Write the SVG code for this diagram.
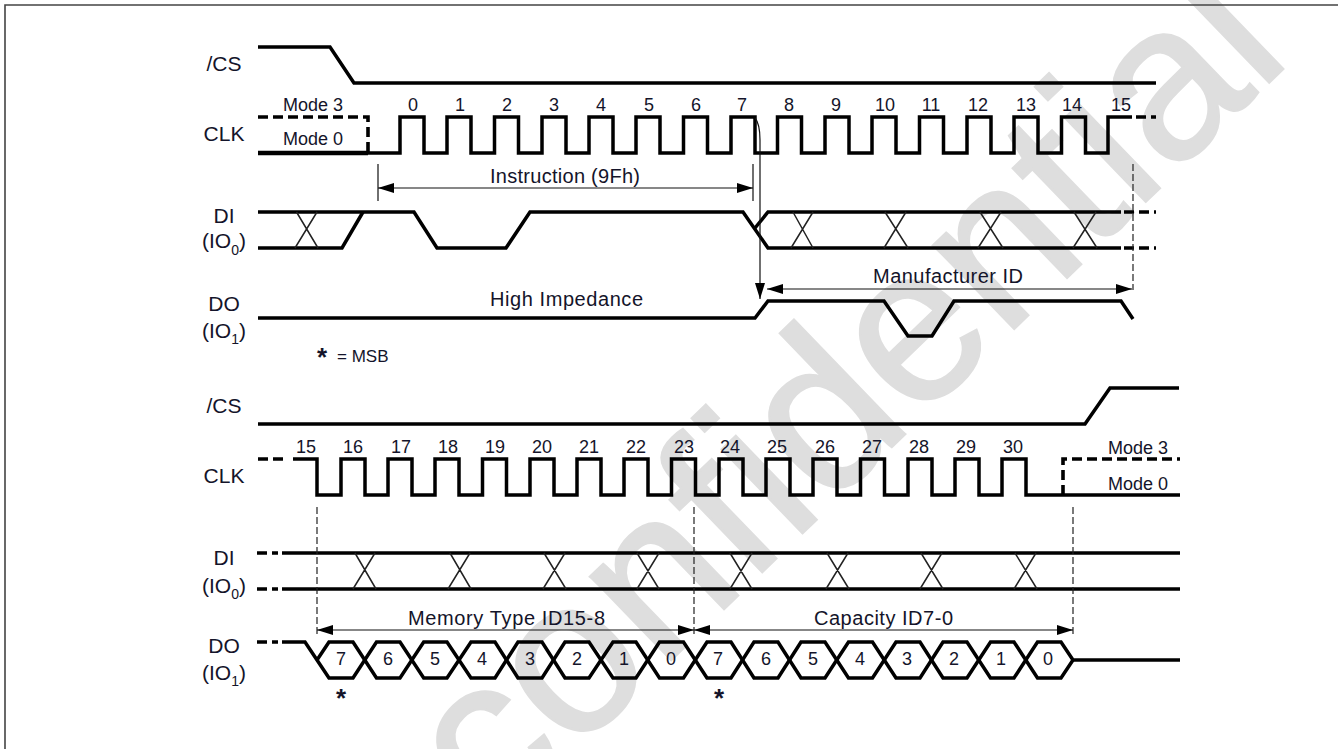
<svg xmlns="http://www.w3.org/2000/svg" width="1338" height="749" viewBox="0 0 1338 749">
<style>
text{font-family:"Liberation Sans",Arial,sans-serif;fill:#14142a}
.l{font-size:21px;text-anchor:middle}
.n{font-size:18px;text-anchor:middle}
.t{font-size:20px}
.w{fill:none;stroke:#000;stroke-width:3.5}
.x{fill:none;stroke:#222;stroke-width:1.5}
.d{fill:none;stroke:#000;stroke-width:3.6;stroke-dasharray:10 5}
.a{fill:none;stroke:#111;stroke-width:1.2}
.v{fill:none;stroke:#222;stroke-width:1.2;stroke-dasharray:7 3}
.sb{font-size:14px}
.st{font-size:26px;font-weight:bold}
</style>
<defs>
<marker id="ah" viewBox="0 0 16 10" refX="16" refY="5" markerWidth="16" markerHeight="10" orient="auto-start-reverse" markerUnits="userSpaceOnUse"><path d="M0 0L16 5L0 10Z" fill="#000"/></marker>
</defs>
<rect width="1338" height="749" fill="#fff"/>
<text id="watermark" transform="translate(493,832) rotate(-44)" style="font-size:220px;fill:#dedede;stroke:#dedede;stroke-width:2.500">confidential</text>
<path d="M5 749V5H1338" fill="none" stroke="#444" stroke-width="1.6"/>
<g id="connectors">
<path class="w" d="M258 47H330L354 83H1156"/>
<path class="w" d="M258 153H400V117H424V153H447V117H471V153H494.500V117H518.500V153H542V117H566V153H589V117H613V153H636V117H660V153H683.500V117H707.500V153H731V117H755V153H777.500V117H801.500V153H825V117H849V153H872V117H896V153H919.500V117H943.500V153H967V117H991V153H1014V117H1038V153H1061.500V117H1085.500V153H1108V117H1132"/>
<path class="w" d="M258 153H368" style="stroke-width:4.500"/>
<path class="d" d="M258 117H368V153"/>
<path class="d" d="M1136 117H1156"/>
<path class="w" d="M258 212H414L437 248H506L530 212H743L768 248H1121"/>
<path class="w" d="M258 248H342L363 212"/>
<path class="w" d="M755 228L768 212H1121"/>
<path class="d" d="M1124 212H1156"/>
<path class="d" d="M1124 248H1156"/>
<path class="x" d="M296.500 212L318 248M317 212L295 248M793 212L813 248M813 212L791 248M885 212L908 248M906 212L884 248M980 212L1003 248M1001 212L978 248M1074 212L1097 248M1096 212L1073 248"/>
<path class="w" d="M258 318H755L768 301H884L908 336H932L954 301H1121L1133 319"/>
<path class="a" d="M755 118Q760 124 760 140V299" marker-end="url(#ah)"/>
<path class="a" d="M378 188H753" marker-start="url(#ah)" marker-end="url(#ah)"/>
<path class="a" d="M378 164V201M753 164V201"/>
<path class="a" d="M767 289H1132" marker-start="url(#ah)" marker-end="url(#ah)"/>
<path class="v" d="M1133 164V290"/>
<path class="w" d="M258 424H1085L1110 388H1179"/>
<path class="w" d="M293 459H317V495H341V459H365V495H388V459H412V495H435V459H459V495H482.500V459H506.500V495H530V459H554V495H577V459H601V495H624V459H648V495H671.500V459H695.500V495H719V459H743V495H766V459H790V495H813V459H837V495H860.500V459H884.500V495H908V459H932V495H955V459H979V495H1002V459H1026V495H1180"/>
<path class="d" d="M258 459H286"/>
<path class="d" d="M1063 495V459H1180"/>
<path class="w" d="M282 553H1180M282 589H1180"/>
<path class="d" d="M257 553H278"/>
<path class="d" d="M257 589H278"/>
<path class="x" d="M355 553L376 589M375 553L353 589M450 553L471 589M470 553L448 589M544 553L566 589M565 553L543 589M637 553L659 589M659 553L637 589M730 553L752 589M752 553L730 589M827 553L849 589M848 553L826 589M921 553L943 589M942 553L920 589M1015 553L1037 589M1036 553L1014 589"/>
<path class="v" d="M317 507V635M694 507V635M1073 507V637"/>
<path class="a" d="M317 630H694" marker-start="url(#ah)" marker-end="url(#ah)"/>
<path class="a" d="M694 630H1073" marker-start="url(#ah)" marker-end="url(#ah)"/>
<path class="d" d="M257 642H278"/>
<path class="w" d="M282 642H305L329 678H353L376.500 642H400L423.700 678H447L471 642H495L518 678H542L565 642H589L613 678H636L659.500 642H683.500L707 678H731L754 642H778L801 678H825L848.500 642H872.500L896 678H920L943 642H967L990.500 678H1014L1037.500 642H1061L1073 660H1180"/>
<path class="w" d="M317 660L329 642H353L376.500 678H400L423.700 642H447L471 678H495L518 642H542L565 678H589L613 642H636L659.500 678H683.500L707 642H731L754 678H778L801 642H825L848.500 678H872.500L896 642H920L943 678H967L990.500 642H1014L1037.500 678H1061L1073 660"/>
</g>
<g id="sig-cs1"><text class="l" x="224" y="71">/CS</text></g>
<g id="sig-clk1"><text class="l" x="224" y="141">CLK</text>
<text class="n" x="313" y="111">Mode 3</text><text class="n" x="313" y="145">Mode 0</text>
<text class="n" x="413" y="111">0</text><text class="n" x="460" y="111">1</text><text class="n" x="507" y="111">2</text><text class="n" x="554" y="111">3</text><text class="n" x="601" y="111">4</text><text class="n" x="649" y="111">5</text><text class="n" x="696" y="111">6</text><text class="n" x="742" y="111">7</text><text class="n" x="789" y="111">8</text><text class="n" x="836" y="111">9</text><text class="n" x="885" y="111">10</text><text class="n" x="931" y="111">11</text><text class="n" x="978" y="111">12</text><text class="n" x="1026" y="111">13</text><text class="n" x="1072" y="111">14</text><text class="n" x="1121" y="111">15</text></g>
<g id="sig-di1"><text class="l" x="224" y="223">DI</text><text class="l" x="224" y="248">(IO<tspan class="sb" dy="7">0</tspan><tspan dy="-7">)</tspan></text></g>
<g id="sig-do1"><text class="l" x="224" y="311">DO</text><text class="l" x="224" y="338">(IO<tspan class="sb" dy="6">1</tspan><tspan dy="-6">)</tspan></text></g>
<g id="notes1">
<text class="t" x="490" y="183" textLength="150">Instruction (9Fh)</text>
<text class="t" x="490" y="306" textLength="153">High Impedance</text>
<text class="t" x="873" y="283" textLength="150">Manufacturer ID</text>
<text class="st" x="317" y="366">*</text><text x="337" y="362" style="font-size:17px">= MSB</text>
</g>
<g id="sig-cs2"><text class="l" x="224" y="413">/CS</text></g>
<g id="sig-clk2"><text class="l" x="224" y="483">CLK</text>
<text class="n" x="1138" y="454">Mode 3</text><text class="n" x="1138" y="490">Mode 0</text>
<text class="n" x="306" y="453">15</text><text class="n" x="353" y="453">16</text><text class="n" x="401" y="453">17</text><text class="n" x="448" y="453">18</text><text class="n" x="495" y="453">19</text><text class="n" x="542" y="453">20</text><text class="n" x="589" y="453">21</text><text class="n" x="636" y="453">22</text><text class="n" x="684" y="453">23</text><text class="n" x="730" y="453">24</text><text class="n" x="777" y="453">25</text><text class="n" x="825" y="453">26</text><text class="n" x="872" y="453">27</text><text class="n" x="919" y="453">28</text><text class="n" x="966" y="453">29</text><text class="n" x="1013" y="453">30</text></g>
<g id="sig-di2"><text class="l" x="224" y="565">DI</text><text class="l" x="224" y="593">(IO<tspan class="sb" dy="6">0</tspan><tspan dy="-6">)</tspan></text></g>
<g id="sig-do2"><text class="l" x="224" y="653">DO</text><text class="l" x="224" y="680">(IO<tspan class="sb" dy="6">1</tspan><tspan dy="-6">)</tspan></text></g>
<g id="notes2">
<text class="t" x="408" y="625" textLength="197">Memory Type ID15-8</text>
<text class="t" x="814" y="625" textLength="139">Capacity ID7-0</text>
<text class="n" x="341" y="665">7</text><text class="n" x="388" y="665">6</text><text class="n" x="435" y="665">5</text><text class="n" x="482" y="665">4</text><text class="n" x="530" y="665">3</text><text class="n" x="577" y="665">2</text><text class="n" x="624" y="665">1</text><text class="n" x="671" y="665">0</text><text class="n" x="718" y="665">7</text><text class="n" x="766" y="665">6</text><text class="n" x="813" y="665">5</text><text class="n" x="860" y="665">4</text><text class="n" x="907" y="665">3</text><text class="n" x="954" y="665">2</text><text class="n" x="1001" y="665">1</text><text class="n" x="1048" y="665">0</text>
<text class="st" x="341" y="707" text-anchor="middle">*</text><text class="st" x="719" y="707" text-anchor="middle">*</text>
</g>
</svg>
